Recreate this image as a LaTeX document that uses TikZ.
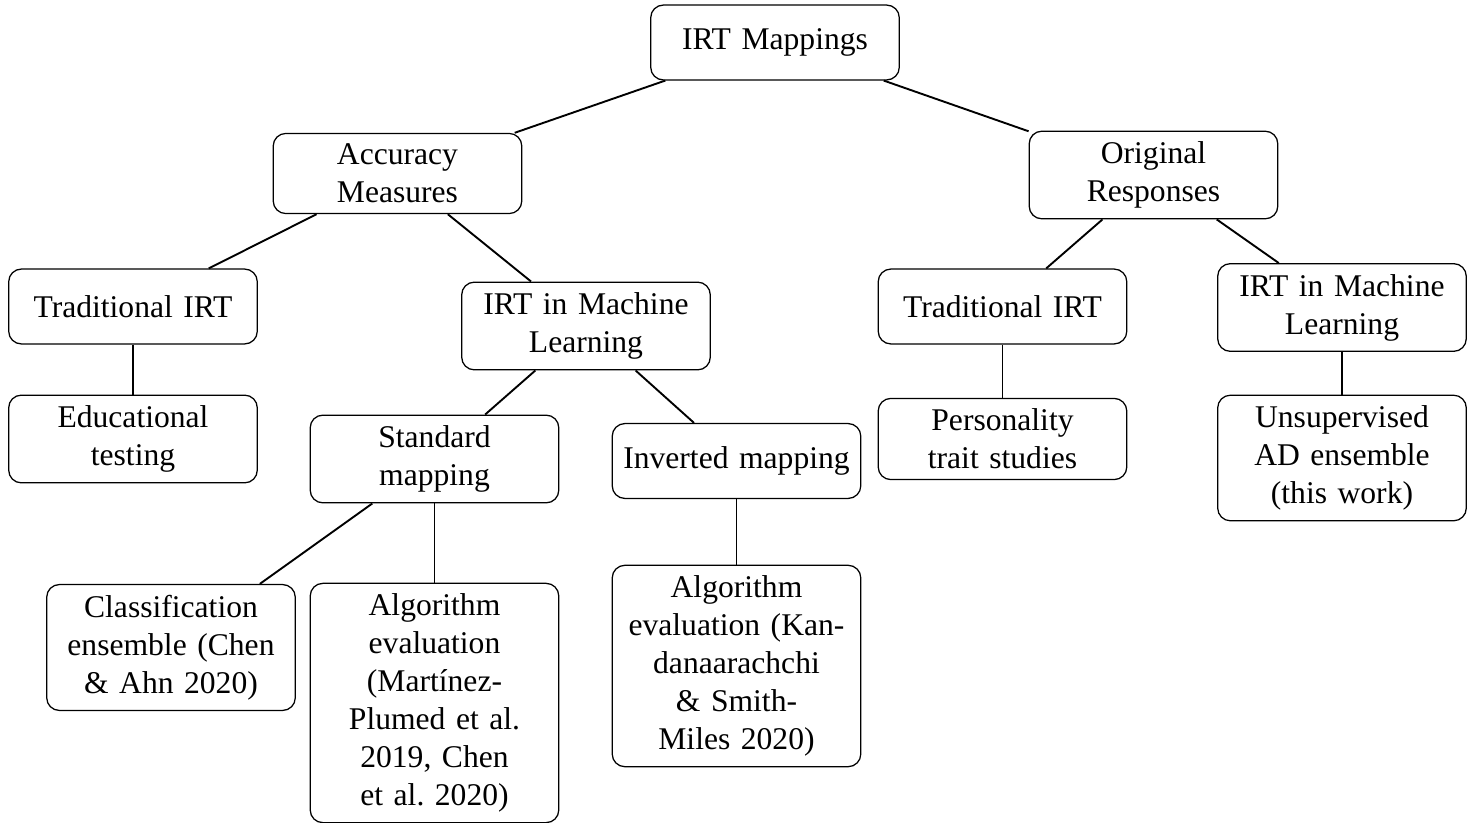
\documentclass[tikz,border=0pt]{standalone}
\usepackage{fontspec}
\setmainfont{Liberation Serif}

\begin{document}
\begin{tikzpicture}[x=0.31646pt, y=-0.31646pt,
    topic/.style={rectangle, draw=black, rounded corners, fill=white,
        text width=72pt, align=center, minimum height=23.7pt},
    link/.style={semithick, -}
]
    \useasboundingbox (0,0) rectangle (1479,823);
    \node[topic] (root) at (775,42.5) {IRT Mappings};
    \node[topic] (acc) at (397.5,173.5) {Accuracy Measures};
    \node[topic] (orig) at (1153.5,175) {Original Responses};
    \node[topic] (tradA) at (133,306.5) {Traditional IRT};
    \node[topic] (mlA) at (586,326) {IRT in Machine Learning};
    \node[topic] (tradO) at (1002.5,306.5) {Traditional IRT};
    \node[topic] (mlO) at (1342,307.5) {IRT in Machine Learning};
    \node[topic] (edu) at (133,439) {Educational testing};
    \node[topic] (std) at (434.5,459) {Standard mapping};
    \node[topic] (inv) at (736.5,461) {Inverted mapping};
    \node[topic] (pers) at (1002.5,439) {Personality trait studies};
    \node[topic] (unsup) at (1342,458) {Unsupervised AD ensemble (this work)};
    \node[topic] (cls) at (171,647.5) {Classification ensemble (Chen \& Ahn 2020)};
    \node[topic] (alg1) at (434.5,703) {Algorithm evaluation (Martínez-Plumed et al.\ 2019, Chen et al.\ 2020)};
    \node[topic] (alg2) at (736.5,666) {Algorithm evaluation (Kan\-danaarachchi \& Smith-Miles 2020)};
    \draw[link] (root) -- (acc);
    \draw[link] (root) -- (orig);
    \draw[link] (acc) -- (tradA);
    \draw[link] (acc) -- (mlA);
    \draw[link] (orig) -- (tradO);
    \draw[link] (orig) -- (mlO);
    \draw[link] (tradA) -- (edu);
    \draw[link] (mlA) -- (std);
    \draw[link] (mlA) -- (inv);
    \draw[link] (tradO) -- (pers);
    \draw[link] (mlO) -- (unsup);
    \draw[link] (std) -- (cls);
    \draw[link] (std) -- (alg1);
    \draw[link] (inv) -- (alg2);
\end{tikzpicture}
\end{document}
